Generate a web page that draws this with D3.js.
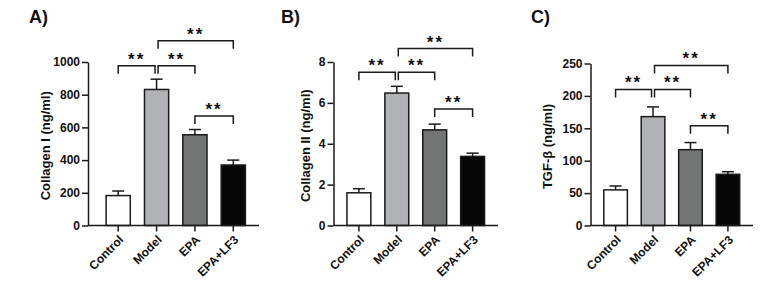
<!DOCTYPE html>
<html><head>
<meta charset="utf-8">
<script src="https://d3js.org/d3.v7.min.js"></script>
<style>
  body { margin: 0; background: #fff; }
  text { font-family: "Liberation Sans", Arial, sans-serif; font-weight: bold; fill: #111; }
</style>
</head>
<body>
<svg id="chart" width="768" height="294"></svg>
<script>
// groups shared by all three panels
const groups = ["Control", "Model", "EPA", "EPA+LF3"];
const fills = ["#ffffff", "#b1b2b6", "#737474", "#070707"];

// panel A - Collagen I
const collagen1 = [183, 832, 555, 370];
const collagen1Err = [28, 63, 32, 30];
const collagen1Ticks = [0, 200, 400, 600, 800, 1000];

// panel B - Collagen II
const collagen2 = [1.6, 6.48, 4.68, 3.38];
const collagen2Err = [0.2, 0.33, 0.28, 0.16];
const collagen2Ticks = [0, 2, 4, 6, 8];

// panel C - TGF-beta
const tgfb = [55, 168, 117, 79];
const tgfbErr = [6, 15, 11, 4];
const tgfbTicks = [0, 50, 100, 150, 200, 250];

// significance comparisons (group index pairs) and their bracket level in data units
const pairs = [[0, 1], [1, 2], [1, 3], [2, 3]];
const collagen1Brackets = [977, 977, 1130, 670];
const collagen2Brackets = [7.5, 7.5, 8.66, 5.7];
const tgfbBrackets = [210, 210, 247, 154];
const sigLabel = "**";

const svg = d3.select("svg#chart");
const axisY = 225.5;

// layout per panel
const panels = [
  { tag: "A)", tagX: 29, label: "Collagen I (ng/ml)", labelX: 45, axisX: 88, bandX: 92.5, endX: 259, top: 62,
    values: collagen1, errs: collagen1Err, ticks: collagen1Ticks, brackets: collagen1Brackets },
  { tag: "B)", tagX: 281, label: "Collagen II (ng/ml)", labelX: 305, axisX: 333.5, bandX: 333.5, endX: 498, top: 62,
    values: collagen2, errs: collagen2Err, ticks: collagen2Ticks, brackets: collagen2Brackets },
  { tag: "C)", tagX: 531, label: "TGF-\u03b2 (ng/ml)", labelX: 547, axisX: 590.5, bandX: 590.5, endX: 753, top: 63.5,
    values: tgfb, errs: tgfbErr, ticks: tgfbTicks, brackets: tgfbBrackets }
];

panels.forEach(p => {
  const g = svg.append("g");

  const x = d3.scaleBand().domain(groups).range([p.bandX, p.endX])
    .paddingInner(0.37).paddingOuter(0.355);
  const y = d3.scaleLinear().domain([0, d3.max(p.ticks)]).range([axisY, p.top]);

  // panel letter
  g.append("text").attr("x", p.tagX).attr("y", 23)
    .style("font-size", "18px").text(p.tag);

  // y axis title
  g.append("text")
    .attr("transform", "translate(" + p.labelX + "," + ((axisY + p.top) / 2 + 2) + ") rotate(-90)")
    .attr("text-anchor", "middle").attr("dy", "0.35em")
    .style("font-size", "13px").text(p.label);

  // bars
  g.selectAll("rect.bar").data(p.values).join("rect")
    .attr("class", "bar")
    .attr("x", (d, i) => x(groups[i]))
    .attr("y", d => y(d))
    .attr("width", x.bandwidth())
    .attr("height", d => axisY - y(d))
    .attr("fill", (d, i) => fills[i])
    .attr("stroke", "#1a1a1a").attr("stroke-width", 1.5);

  // error bars (upper only)
  const cx = i => x(groups[i]) + x.bandwidth() / 2;
  const caps = g.selectAll("g.err").data(p.values).join("g").attr("class", "err")
    .attr("stroke", "#1a1a1a").attr("stroke-width", 1.5);
  caps.append("line")
    .attr("x1", (d, i) => cx(i)).attr("x2", (d, i) => cx(i))
    .attr("y1", d => y(d)).attr("y2", (d, i) => y(d + p.errs[i]));
  caps.append("line")
    .attr("x1", (d, i) => cx(i) - 6).attr("x2", (d, i) => cx(i) + 6)
    .attr("y1", (d, i) => y(d + p.errs[i])).attr("y2", (d, i) => y(d + p.errs[i]));

  // y axis
  const yAxis = g.append("g")
    .attr("transform", "translate(" + p.axisX + ",0)")
    .call(d3.axisLeft(y).tickValues(p.ticks).tickFormat(d3.format("d"))
      .tickSize(6).tickSizeOuter(0).tickPadding(2));
  yAxis.selectAll("path, line").attr("stroke", "#1a1a1a").attr("stroke-width", 1.5);
  yAxis.selectAll("text").style("font-size", "12px").style("font-family", null).attr("fill", "#111");

  // x axis
  const xAxis = g.append("g")
    .attr("transform", "translate(0," + axisY + ")")
    .call(d3.axisBottom(x).tickSize(6).tickSizeOuter(0));
  xAxis.select("path.domain").remove();
  xAxis.append("line").attr("x1", p.axisX).attr("x2", p.endX)
    .attr("stroke", "#1a1a1a").attr("stroke-width", 1.5);
  xAxis.selectAll("line").attr("stroke", "#1a1a1a").attr("stroke-width", 1.5);
  xAxis.selectAll(".tick text")
    .style("font-size", "12px").style("font-family", null).attr("fill", "#111")
    .attr("text-anchor", "end")
    .attr("transform", "translate(6,15) rotate(-45)")
    .attr("dx", 0).attr("dy", 0).attr("y", 0);

  // significance brackets
  pairs.forEach((pr, k) => {
    const by = y(p.brackets[k]);
    const x1 = cx(pr[0]) + (pr[0] === 1 ? 1.5 : 0);
    const x2 = cx(pr[1]) - (pr[1] === 1 ? 1.5 : 0);
    g.append("path")
      .attr("d", "M" + x1 + "," + (by + 8) + "V" + by + "H" + x2 + "V" + (by + 8))
      .attr("fill", "none").attr("stroke", "#1a1a1a").attr("stroke-width", 1.5);
    g.append("text")
      .attr("x", (x1 + x2) / 2).attr("y", by - 1)
      .attr("text-anchor", "middle")
      .style("font-size", "17px").style("letter-spacing", "2px")
      .text(sigLabel);
  });
});
</script>
</body></html>
